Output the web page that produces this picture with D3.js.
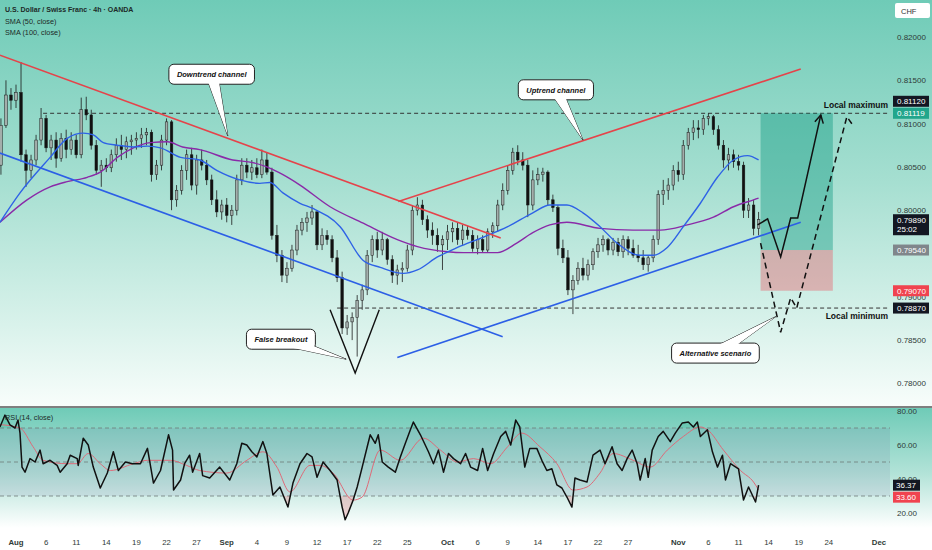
<!DOCTYPE html>
<html>
<head>
<meta charset="utf-8">
<script src="https://cdn.jsdelivr.net/npm/d3@7/dist/d3.min.js"></script>
<style>
  body { margin: 0; background: #fff; }
  #chart svg { display: block; font-family: "Liberation Sans", Arial, sans-serif; }
</style>
</head>
<body>
<div id="chart"></div>
<script>
// USD/CHF 4h, drawn as 12h candles. Prices in 1e-4 units (8105 = 0.81050)
// time axis = trading-day index, Aug 1 = 0
const candleT0 = -1.5;
const candleStep = 0.5;
const candles = [ // [open, high, low, close]
  [8052,8106,8041,8098],[8098,8150,8095,8133],[8133,8141,8116,8127],[8127,8145,8118,8136],
  [8136,8171,8056,8064],[8064,8070,8027,8046],[8046,8064,8037,8058],[8058,8087,8052,8081],
  [8081,8118,8075,8106],[8106,8110,8067,8072],[8072,8087,8058,8081],[8081,8090,8049,8060],
  [8060,8089,8056,8083],[8083,8093,8060,8070],[8070,8090,8064,8081],[8081,8087,8060,8064],
  [8064,8130,8060,8116],[8116,8131,8104,8110],[8110,8116,8070,8075],[8075,8081,8041,8046],
  [8046,8058,8027,8052],[8052,8060,8044,8049],[8049,8070,8044,8064],[8064,8083,8056,8075],
  [8075,8087,8058,8070],[8070,8085,8060,8079],[8079,8087,8064,8081],[8081,8090,8070,8083],
  [8083,8095,8072,8087],[8087,8095,8075,8090],[8090,8093,8033,8041],[8041,8058,8035,8052],
  [8052,8087,8046,8081],[8081,8106,8075,8102],[8102,8104,8000,8012],[8012,8029,8004,8023],
  [8023,8052,8018,8046],[8046,8070,8035,8064],[8064,8072,8023,8029],[8029,8064,8018,8058],
  [8058,8070,8046,8052],[8052,8058,8029,8035],[8035,8041,8006,8012],[8012,8023,7992,7998],
  [7998,8012,7989,8006],[8006,8014,7986,7994],[7994,8006,7983,8000],[8000,8041,7994,8035],
  [8035,8060,8029,8052],[8052,8060,8037,8044],[8044,8058,8035,8049],[8049,8060,8037,8041],
  [8041,8070,8037,8058],[8058,8067,8041,8044],[8044,8049,7966,7971],[7971,7983,7940,7948],
  [7948,7954,7917,7925],[7925,7940,7916,7933],[7933,7960,7929,7954],[7954,7983,7948,7977],
  [7977,7991,7971,7986],[7986,7998,7975,7991],[7991,8006,7983,7998],[7998,8000,7954,7960],
  [7960,7979,7954,7971],[7971,7977,7960,7966],[7966,7971,7940,7945],[7945,7954,7917,7922],
  [7922,7929,7857,7864],[7864,7879,7856,7871],[7871,7882,7850,7876],[7876,7902,7831,7896],
  [7896,7914,7885,7908],[7908,7954,7902,7948],[7948,7971,7940,7966],[7966,7975,7945,7954],
  [7954,7975,7948,7966],[7966,7968,7937,7943],[7943,7948,7916,7925],[7925,7937,7914,7931],
  [7931,7940,7917,7933],[7933,7960,7929,7954],[7954,8006,7948,8000],[8000,8015,7994,8006],
  [8006,8012,7983,7989],[7989,7994,7968,7977],[7977,7986,7960,7971],[7971,7979,7952,7960],
  [7960,7971,7931,7966],[7966,7983,7954,7975],[7975,7986,7963,7979],[7979,7986,7960,7966],
  [7966,7983,7960,7977],[7977,7982,7966,7971],[7971,7977,7952,7956],[7956,7971,7949,7966],
  [7966,7971,7951,7954],[7954,7979,7951,7975],[7975,7986,7968,7982],[7982,8012,7975,8006],
  [8006,8031,8000,8023],[8023,8052,8018,8046],[8046,8072,8041,8067],[8067,8075,8052,8058],
  [8058,8067,8046,8052],[8052,8058,7992,8006],[8006,8046,8000,8035],[8035,8049,8029,8041],
  [8041,8049,8033,8044],[8044,8046,8006,8012],[8012,8018,7998,8003],[8003,8006,7948,7956],
  [7956,7966,7939,7945],[7945,7954,7902,7908],[7908,7925,7880,7919],[7919,7940,7914,7933],
  [7933,7945,7919,7925],[7925,7943,7919,7937],[7937,7956,7931,7952],[7952,7968,7945,7960],
  [7960,7971,7952,7966],[7966,7968,7948,7954],[7954,7968,7948,7963],[7963,7968,7947,7952],
  [7952,7971,7945,7966],[7966,7970,7948,7956],[7956,7966,7945,7948],[7948,7960,7940,7945],
  [7945,7954,7931,7937],[7937,7948,7929,7945],[7945,7971,7940,7966],[7966,8023,7960,8018],
  [8018,8035,8006,8023],[8023,8037,8012,8029],[8029,8052,8023,8046],[8046,8056,8033,8041],
  [8041,8081,8035,8075],[8075,8095,8070,8090],[8090,8104,8081,8095],[8095,8104,8083,8093],
  [8093,8110,8087,8106],[8106,8112,8098,8108],[8108,8110,8087,8093],[8093,8098,8070,8075],
  [8075,8081,8049,8058],[8058,8072,8046,8064],[8064,8070,8049,8056],[8056,8064,8046,8052],
  [8052,8056,7991,8000],[8000,8014,7991,8006],[8006,8012,7971,7979],[7979,7998,7971,7989]
];

// SMA readings [dayIndex, price]
const sma50 = [[-1.6,7986],[0.4,8020],[3.4,8061],[5.1,8083],[6.7,8089],[7.7,8087],[8.7,8078],[10.1,8075],
  [11.7,8073],[13.1,8074],[14.4,8072],[16.4,8061],[18.3,8058],[20,8046],[22.3,8035],[24.3,8031],[25.3,8032],
  [26.6,8020],[28.3,8008],[29.6,8002],[32.3,7981],[34.6,7942],[36.3,7934],[38.6,7927],[40,7931],[42,7946],
  [44,7957],[46.6,7969],[49,7981],[51.5,7997],[53.2,8006],[54.9,8006],[56.5,7997],[58.2,7981],[59.9,7962],
  [62.2,7948],[63.5,7948],[64.9,7957],[66.5,7981],[68.2,8008],[69.9,8038],[71.5,8058],[72.9,8063],[74,8058]];
const sma100 = [[-1.6,7986],[1.1,8012],[3.4,8027],[5.1,8033],[7.1,8038],[8.4,8044],[10.1,8061],[11.7,8072],
  [13.4,8078],[15.1,8079],[16.6,8073],[18.3,8070],[21.6,8058],[23.6,8055],[25,8050],[26.6,8041],[28.3,8029],
  [31.3,8004],[34.6,7985],[38,7966],[40,7958],[43,7952],[44.6,7951],[48,7951],[49.9,7962],[51.5,7974],
  [53.2,7983],[54.9,7986],[58.2,7979],[61.5,7977],[64.2,7977],[66.9,7983],[69.5,7992],[71.5,8004],
  [73.5,8012],[74,8014]];

// RSI(14) and its moving average [dayIndex, value]
const rsi = [[-1.6,70.6],[-1.1,77.6],[-0.6,71.8],[-0.1,70],[0.2,74.7],[0.4,67],[0.6,47],[0.9,44],[1.4,52],
  [1.9,50],[2.4,57],[2.7,49],[3.4,51],[4.1,48],[4.4,44],[5.1,49],[5.4,54],[6.1,52],[6.2,48],[6.7,64],[7.2,60],
  [7.7,47],[8.4,34.7],[9.1,43.5],[9.7,56],[10.2,45],[10.9,50],[11.6,49],[12.4,49],[13.1,58],[13.7,37.6],
  [14.4,45],[15.2,66],[15.6,57],[15.7,33.5],[16.4,39.4],[16.8,49],[17.3,54],[17.6,44],[18.3,55],[18.6,42],
  [19.3,40.6],[20.3,47],[21.3,39.4],[22,49],[22.5,61],[23,60],[23.5,56],[24,53],[24.6,62],[25,55],[25.6,30.6],
  [26.3,35.3],[27.1,23.5],[27.6,37.6],[28.3,49],[29,55],[29.5,53],[30,41],[30.6,50],[31.3,45],[32,39.4],
  [32.5,23.5],[32.8,16],[33.1,20],[33.6,27.6],[34,35.3],[34.5,47],[35,59],[35.3,66],[35.8,61],[36.1,66],
  [36.5,50],[37.1,47],[37.8,44],[38.3,53],[38.8,61],[39.3,69],[39.6,73.5],[40.3,66],[41.1,56],[41.6,49],
  [42.1,57],[42.6,44],[43.1,55],[43.6,52],[44.3,49],[44.8,55],[45.3,47],[46,45],[46.5,58],[47,45],[47.6,55],
  [48.3,65],[48.8,68],[49.3,60],[49.8,74.7],[50.2,70.6],[50.7,47],[51.2,58],[51.9,58],[52.4,51],[52.9,45],
  [53.4,46],[53.9,36.5],[54.4,34.7],[54.9,29.4],[55.4,23.5],[55.7,40.6],[56.2,39.4],[56.9,38.2],[57.5,54],
  [58.2,57],[58.7,49],[59.4,59],[59.9,49],[60.4,45],[60.9,52],[61.4,57],[61.9,49],[62.2,39.4],[62.7,52],
  [63,41],[63.4,57],[64,65],[64.5,68],[65.2,62],[65.7,67],[66.4,73],[67,73.5],[67.5,70.6],[67.9,73.5],
  [68.2,65],[68.9,69],[69.4,56],[69.9,47],[70.4,54],[70.7,39.4],[71.2,49],[72,46],[72.5,27.6],[73,35.3],
  [73.7,26.5],[74,36.37]];
const rsiMa = [[-1.6,72],[0.4,70],[1.7,59],[2.7,51],[5.1,49],[6.1,49],[7.2,55],[8.4,49],[9.4,45],[11.7,49],
  [13.1,51],[15.4,51],[17,48],[18.3,45],[21,43.5],[23,51],[24.6,56],[26,47],[27.3,32.4],[29.3,48],[30.3,48],
  [31.6,43.5],[33.6,27.6],[34.5,29.4],[36.3,57],[38.3,51],[40.6,64],[42.3,57],[44,50],[45.6,52],[47.3,49],
  [49,59],[50.4,67],[52.2,59],[53.9,49],[55.5,33.5],[56.9,35.3],[58.2,43.5],[59.5,55],[61.5,51],[63.2,47],
  [64.9,57],[66.5,65],[68.2,70.6],[68.9,69],[70.5,57],[72.2,45],[73.5,38.2],[74,33.6]];

// drawings, anchored in [dayIndex, price]
const downTop = [[-1.6,8179],[48.3,7968]];
const downBottom = [[-1.6,8066],[48.5,7854]];
const upTop = [[38.1,8010],[78.2,8163]];
const upBottom = [[38.0,7830],[78.2,7986]];
const localMax = { from: 2.7, price: 8111.9, label: 'Local maximum' };
const localMin = { from: 32.0, price: 7887, label: 'Local minimum' };
const position = { from: 74.2, to: 81.4, entry: 7954, target: 8111.9, stop: 7907 };
const mainPath = [[73.9,7983],[74.9,7990],[76.2,7946],[77.2,7991],[77.9,7991],[80.2,8110]];
const altPath = [[74.2,7962],[76.2,7859],[77.2,7899],[77.8,7887],[82.8,8108],[83.4,8098]];
const vMark = [[31.3,7885],[33.8,7812],[36.2,7885]];
const callouts = [
  { text: 'Downtrend channel', at: [19.5,8157], tip: [21.1,8086] },
  { text: 'Uptrend channel', at: [53.8,8139], tip: [56.5,8081] },
  { text: 'False breakout', at: [26.4,7851], tip: [32.9,7828] },
  { text: 'Alternative scenario', at: [69.7,7835], tip: [75.7,7877] }
];

// axes
const priceTicks = [7800,7850,7900,7950,8000,8050,8100,8150,8200];
const rsiTicks = [80,60,40,20];
const rsiLevels = [70,50,30];
const timeTicks = [['Aug',0],['6',3],['11',6],['14',9],['19',12],['22',15],['27',18],['Sep',21],['4',24],
  ['9',27],['12',30],['17',33],['22',36],['25',39],['Oct',43],['6',46],['9',49],['14',52],['17',55],['22',58],
  ['27',61],['Nov',66],['6',69],['11',72],['14',75],['19',78],['24',81],['Dec',86]];
const months = ['Aug','Sep','Oct','Nov','Dec'];
const priceMarks = [8111.9, 8112.0, 7989, 7954, 7907, 7887];
const priceMarkColors = ['#22a68c','#131722','#131722','#80868b','#f0434f','#131722'];
const rsiMarks = [36.37, 33.60];
const rsiMarkColors = ['#131722','#f0434f'];

const W = 932, H = 550, plotR = 890;
const mainBot = 406, rsiTop = 408, rsiBot = 528;

const x = d3.scaleLinear().domain([0, 86]).range([16, 879]);
const y = d3.scaleLinear().domain([7800, 8200]).range([383.4, 37]);
const yr = d3.scaleLinear().domain([20, 80]).range([513, 411]);
const fmtP = v => (v / 10000).toFixed(5);

const svg = d3.select('#chart').append('svg')
  .attr('width', W)
  .attr('height', H);
const defs = svg.append('defs');

function vGrad(id, stops) {
  const gr = defs.append('linearGradient').attr('id', id)
    .attr('x1', 0).attr('y1', 0).attr('x2', 0).attr('y2', 1);
  stops.forEach(s => gr.append('stop').attr('offset', s[0]).attr('stop-color', s[1]));
}
vGrad('bgMain', [[0, '#6fcbb7'], [0.45, '#a6dfd1'], [0.8, '#d9f2eb'], [1, '#f8fdfb']]);
vGrad('bgRsi', [[0, '#6fcbb7'], [0.55, '#b3e3d8'], [1, '#ffffff']]);

defs.append('clipPath').attr('id', 'mainClip').append('rect')
  .attr('x', 0).attr('y', 0).attr('width', plotR).attr('height', mainBot);
defs.append('clipPath').attr('id', 'rsiClip').append('rect')
  .attr('x', 0).attr('y', rsiTop).attr('width', plotR).attr('height', rsiBot - rsiTop);
defs.append('clipPath').attr('id', 'below30').append('rect')
  .attr('x', 0).attr('y', yr(30)).attr('width', plotR).attr('height', rsiBot - yr(30));
defs.append('clipPath').attr('id', 'above70').append('rect')
  .attr('x', 0).attr('y', rsiTop).attr('width', plotR).attr('height', yr(70) - rsiTop);

// backgrounds
svg.append('rect').attr('width', W).attr('height', H).attr('fill', '#fff');
svg.append('rect').attr('width', W).attr('height', mainBot).attr('fill', 'url(#bgMain)');
svg.append('rect').attr('y', rsiTop).attr('width', W).attr('height', rsiBot - rsiTop).attr('fill', 'url(#bgRsi)');
svg.append('line')
  .attr('x1', 0).attr('x2', W).attr('y1', 407).attr('y2', 407)
  .attr('stroke', '#555').attr('stroke-width', 1.5);

const main = svg.append('g').attr('clip-path', 'url(#mainClip)');

// horizontal levels
[localMax, localMin].forEach(l => {
  main.append('line')
    .attr('x1', x(l.from)).attr('x2', plotR)
    .attr('y1', y(l.price)).attr('y2', y(l.price))
    .attr('stroke', '#333').attr('stroke-width', 1).attr('stroke-dasharray', '4,3');
});

// long position box
main.append('rect')
  .attr('x', x(position.from)).attr('width', x(position.to) - x(position.from))
  .attr('y', y(position.target)).attr('height', y(position.entry) - y(position.target))
  .attr('fill', 'rgba(8,150,125,0.4)');
main.append('rect')
  .attr('x', x(position.from)).attr('width', x(position.to) - x(position.from))
  .attr('y', y(position.entry)).attr('height', y(position.stop) - y(position.entry))
  .attr('fill', 'rgba(240,60,75,0.33)');

// candles
const cx = i => x(candleT0 + i * candleStep);
const bw = 2.6;
main.selectAll('.wick')
  .data(candles)
  .enter().append('line')
  .attr('class', 'wick')
  .attr('x1', (d, i) => cx(i)).attr('x2', (d, i) => cx(i))
  .attr('y1', d => y(d[1])).attr('y2', d => y(d[2]))
  .attr('stroke', '#1a1a1a').attr('stroke-width', 0.8);
main.selectAll('.body')
  .data(candles)
  .enter().append('rect')
  .attr('class', 'body')
  .attr('x', (d, i) => cx(i) - bw / 2)
  .attr('y', d => y(Math.max(d[0], d[3])))
  .attr('width', bw)
  .attr('height', d => Math.max(1, Math.abs(y(d[0]) - y(d[3]))))
  .attr('fill', d => d[3] >= d[0] ? '#a3aeab' : '#111')
  .attr('stroke', '#1a1a1a').attr('stroke-width', 0.5);

// moving averages
const line = d3.line().x(d => x(d[0])).y(d => y(d[1])).curve(d3.curveMonotoneX);
main.append('path').datum(sma100).attr('d', line)
  .attr('fill', 'none').attr('stroke', '#8a2aa8').attr('stroke-width', 1.4);
main.append('path').datum(sma50).attr('d', line)
  .attr('fill', 'none').attr('stroke', '#2e62e6').attr('stroke-width', 1.4);

// channels
const straight = d3.line().x(d => x(d[0])).y(d => y(d[1]));
[[downTop, '#e5434a'], [upTop, '#e5434a'], [downBottom, '#2c5fe6'], [upBottom, '#2c5fe6']].forEach(([pts, col]) => {
  main.append('path').datum(pts).attr('d', straight)
    .attr('fill', 'none').attr('stroke', col).attr('stroke-width', 1.6);
});

// false breakout V
main.append('path').datum(vMark).attr('d', straight)
  .attr('fill', 'none').attr('stroke', '#111').attr('stroke-width', 1.4);

// projections
main.append('path').datum(altPath).attr('d', straight)
  .attr('fill', 'none').attr('stroke', '#111').attr('stroke-width', 1.5).attr('stroke-dasharray', '6,4');
main.append('path').datum(mainPath).attr('d', straight)
  .attr('fill', 'none').attr('stroke', '#111').attr('stroke-width', 1.5);
{
  const a = mainPath[mainPath.length - 2], b = mainPath[mainPath.length - 1];
  const ax = x(a[0]), ay = y(a[1]), bx = x(b[0]), by = y(b[1]);
  const ang = Math.atan2(by - ay, bx - ax);
  const L = 9, spread = 0.5;
  const p1 = [bx - L * Math.cos(ang - spread), by - L * Math.sin(ang - spread)];
  const p2 = [bx - L * Math.cos(ang + spread), by - L * Math.sin(ang + spread)];
  main.append('path')
    .attr('d', `M${p1[0]},${p1[1]}L${bx},${by}L${p2[0]},${p2[1]}`)
    .attr('fill', 'none').attr('stroke', '#111').attr('stroke-width', 1.5);
}

// callouts
callouts.forEach(c => {
  const g = main.append('g');
  const bx = x(c.at[0]), by = y(c.at[1]);
  const tx = x(c.tip[0]), ty = y(c.tip[1]);
  const label = g.append('text')
    .attr('x', bx).attr('y', by + 3)
    .attr('text-anchor', 'middle')
    .style('font-size', '7.5px').style('font-weight', 'bold').style('font-style', 'italic')
    .attr('fill', '#111')
    .text(c.text);
  const tw = label.node().getComputedTextLength();
  const w = tw + 16, h = 20;
  const dx = tx - bx, dy = ty - by, len = Math.hypot(dx, dy);
  const px = -dy / len * 6, py = dx / len * 6;
  const tail = `M${bx + px},${by + py}L${tx},${ty}L${bx - px},${by - py}Z`;
  g.insert('path', 'text').attr('d', tail).attr('fill', '#fff').attr('stroke', '#222').attr('stroke-width', 1);
  g.insert('rect', 'text')
    .attr('x', bx - w / 2).attr('y', by - h / 2).attr('width', w).attr('height', h)
    .attr('rx', 5).attr('fill', '#fff').attr('stroke', '#222').attr('stroke-width', 1);
  g.insert('path', 'text').attr('d', tail).attr('fill', '#fff');
});

// level captions
[[localMax, -5], [localMin, 11]].forEach(([l, off]) => {
  svg.append('text')
    .attr('x', 888).attr('y', y(l.price) + off)
    .attr('text-anchor', 'end')
    .style('font-size', '8.5px').style('font-weight', 'bold')
    .attr('fill', '#111')
    .text(l.label);
});

// legend
const legend = svg.append('g').style('font-size', '7.3px').attr('fill', '#1d2a28');
legend.append('text').attr('x', 5).attr('y', 12).style('font-weight', 'bold').style('font-size', '7px')
  .text('U.S. Dollar / Swiss Franc · 4h · OANDA');
legend.append('text').attr('x', 5).attr('y', 23.5).text('SMA (50, close)');
legend.append('text').attr('x', 5).attr('y', 35).text('SMA (100, close)');

// currency badge
svg.append('rect').attr('x', 895).attr('y', 3).attr('width', 35).attr('height', 15)
  .attr('rx', 2).attr('fill', '#fff');
svg.append('text').attr('x', 901).attr('y', 13.5)
  .style('font-size', '7.5px').attr('fill', '#333').text('CHF');

// price axis (skip the tick that sits right under a marker)
const markYs = priceMarks.map(y);
svg.append('g').selectAll('text')
  .data(priceTicks.filter(t => markYs.every(m => Math.abs(m - y(t)) > 4)))
  .enter().append('text')
  .attr('x', 897).attr('y', d => y(d) + 3)
  .style('font-size', '8px').attr('fill', '#2f3b38')
  .text(d => fmtP(d));

function placeMarks(values, scale) {
  const placed = [];
  values.forEach((v, i) => {
    let cy = scale(v);
    placed.forEach(p => {
      if (Math.abs(cy - p.cy) < 12) cy = v > p.v ? p.cy - 12 : p.cy + 12;
    });
    placed.push({ v, cy, i });
  });
  return placed;
}

const pm = svg.append('g');
placeMarks(priceMarks, y).forEach(p => {
  const last = p.i === 2;
  const top = p.cy - 5.5, hh = last ? 21 : 11;
  pm.append('rect').attr('x', 893).attr('y', top).attr('width', 36).attr('height', hh)
    .attr('fill', priceMarkColors[p.i]);
  pm.append('text').attr('x', 897).attr('y', p.cy + 3)
    .style('font-size', '8px').attr('fill', '#fff').text(fmtP(p.v));
  if (last) {
    pm.append('text').attr('x', 897).attr('y', p.cy + 12.5)
      .style('font-size', '8px').attr('fill', '#fff').text('25:02');
  }
});

// RSI pane
const rsiG = svg.append('g').attr('clip-path', 'url(#rsiClip)');
rsiG.append('rect')
  .attr('x', 0).attr('width', plotR)
  .attr('y', yr(70)).attr('height', yr(30) - yr(70))
  .attr('fill', 'rgba(110,100,160,0.12)');
rsiLevels.forEach(l => {
  rsiG.append('line').attr('x1', 0).attr('x2', plotR).attr('y1', yr(l)).attr('y2', yr(l))
    .attr('stroke', '#6f7c7a').attr('stroke-width', 0.8).attr('stroke-dasharray', '4,3');
});
rsiG.append('path').datum(rsi)
  .attr('clip-path', 'url(#below30)')
  .attr('d', d3.area().x(d => x(d[0])).y0(yr(30)).y1(d => yr(d[1])))
  .attr('fill', 'rgba(240,70,80,0.22)');
rsiG.append('path').datum(rsi)
  .attr('clip-path', 'url(#above70)')
  .attr('d', d3.area().x(d => x(d[0])).y0(yr(70)).y1(d => yr(d[1])))
  .attr('fill', 'rgba(20,160,130,0.2)');
const rline = d3.line().x(d => x(d[0])).y(d => yr(d[1]));
rsiG.append('path').datum(rsiMa).attr('d', rline.curve(d3.curveMonotoneX))
  .attr('fill', 'none').attr('stroke', '#de6a78').attr('stroke-width', 1);
rsiG.append('path').datum(rsi).attr('d', d3.line().x(d => x(d[0])).y(d => yr(d[1])))
  .attr('fill', 'none').attr('stroke', '#111').attr('stroke-width', 1.5).attr('stroke-linejoin', 'round');

svg.append('text').attr('x', 5).attr('y', 420)
  .style('font-size', '7.3px').attr('fill', '#1d2a28').text('RSI (14, close)');

svg.append('g').selectAll('text')
  .data(rsiTicks)
  .enter().append('text')
  .attr('x', 897).attr('y', d => yr(d) + 3)
  .style('font-size', '8px').attr('fill', '#2f3b38')
  .text(d => d.toFixed(2));

placeMarks(rsiMarks, yr).forEach(p => {
  svg.append('rect').attr('x', 893).attr('y', p.cy - 5.5).attr('width', 27).attr('height', 11)
    .attr('fill', rsiMarkColors[p.i]);
  svg.append('text').attr('x', 896).attr('y', p.cy + 3)
    .style('font-size', '8px').attr('fill', '#fff').text(p.v.toFixed(2));
});

// time axis
svg.append('g').selectAll('text')
  .data(timeTicks)
  .enter().append('text')
  .attr('x', d => x(d[1])).attr('y', 544.5)
  .attr('text-anchor', 'middle')
  .style('font-size', '7.8px')
  .style('font-weight', d => months.includes(d[0]) ? 'bold' : 'normal')
  .attr('fill', '#2f3b38')
  .text(d => d[0]);
</script>
</body>
</html>
